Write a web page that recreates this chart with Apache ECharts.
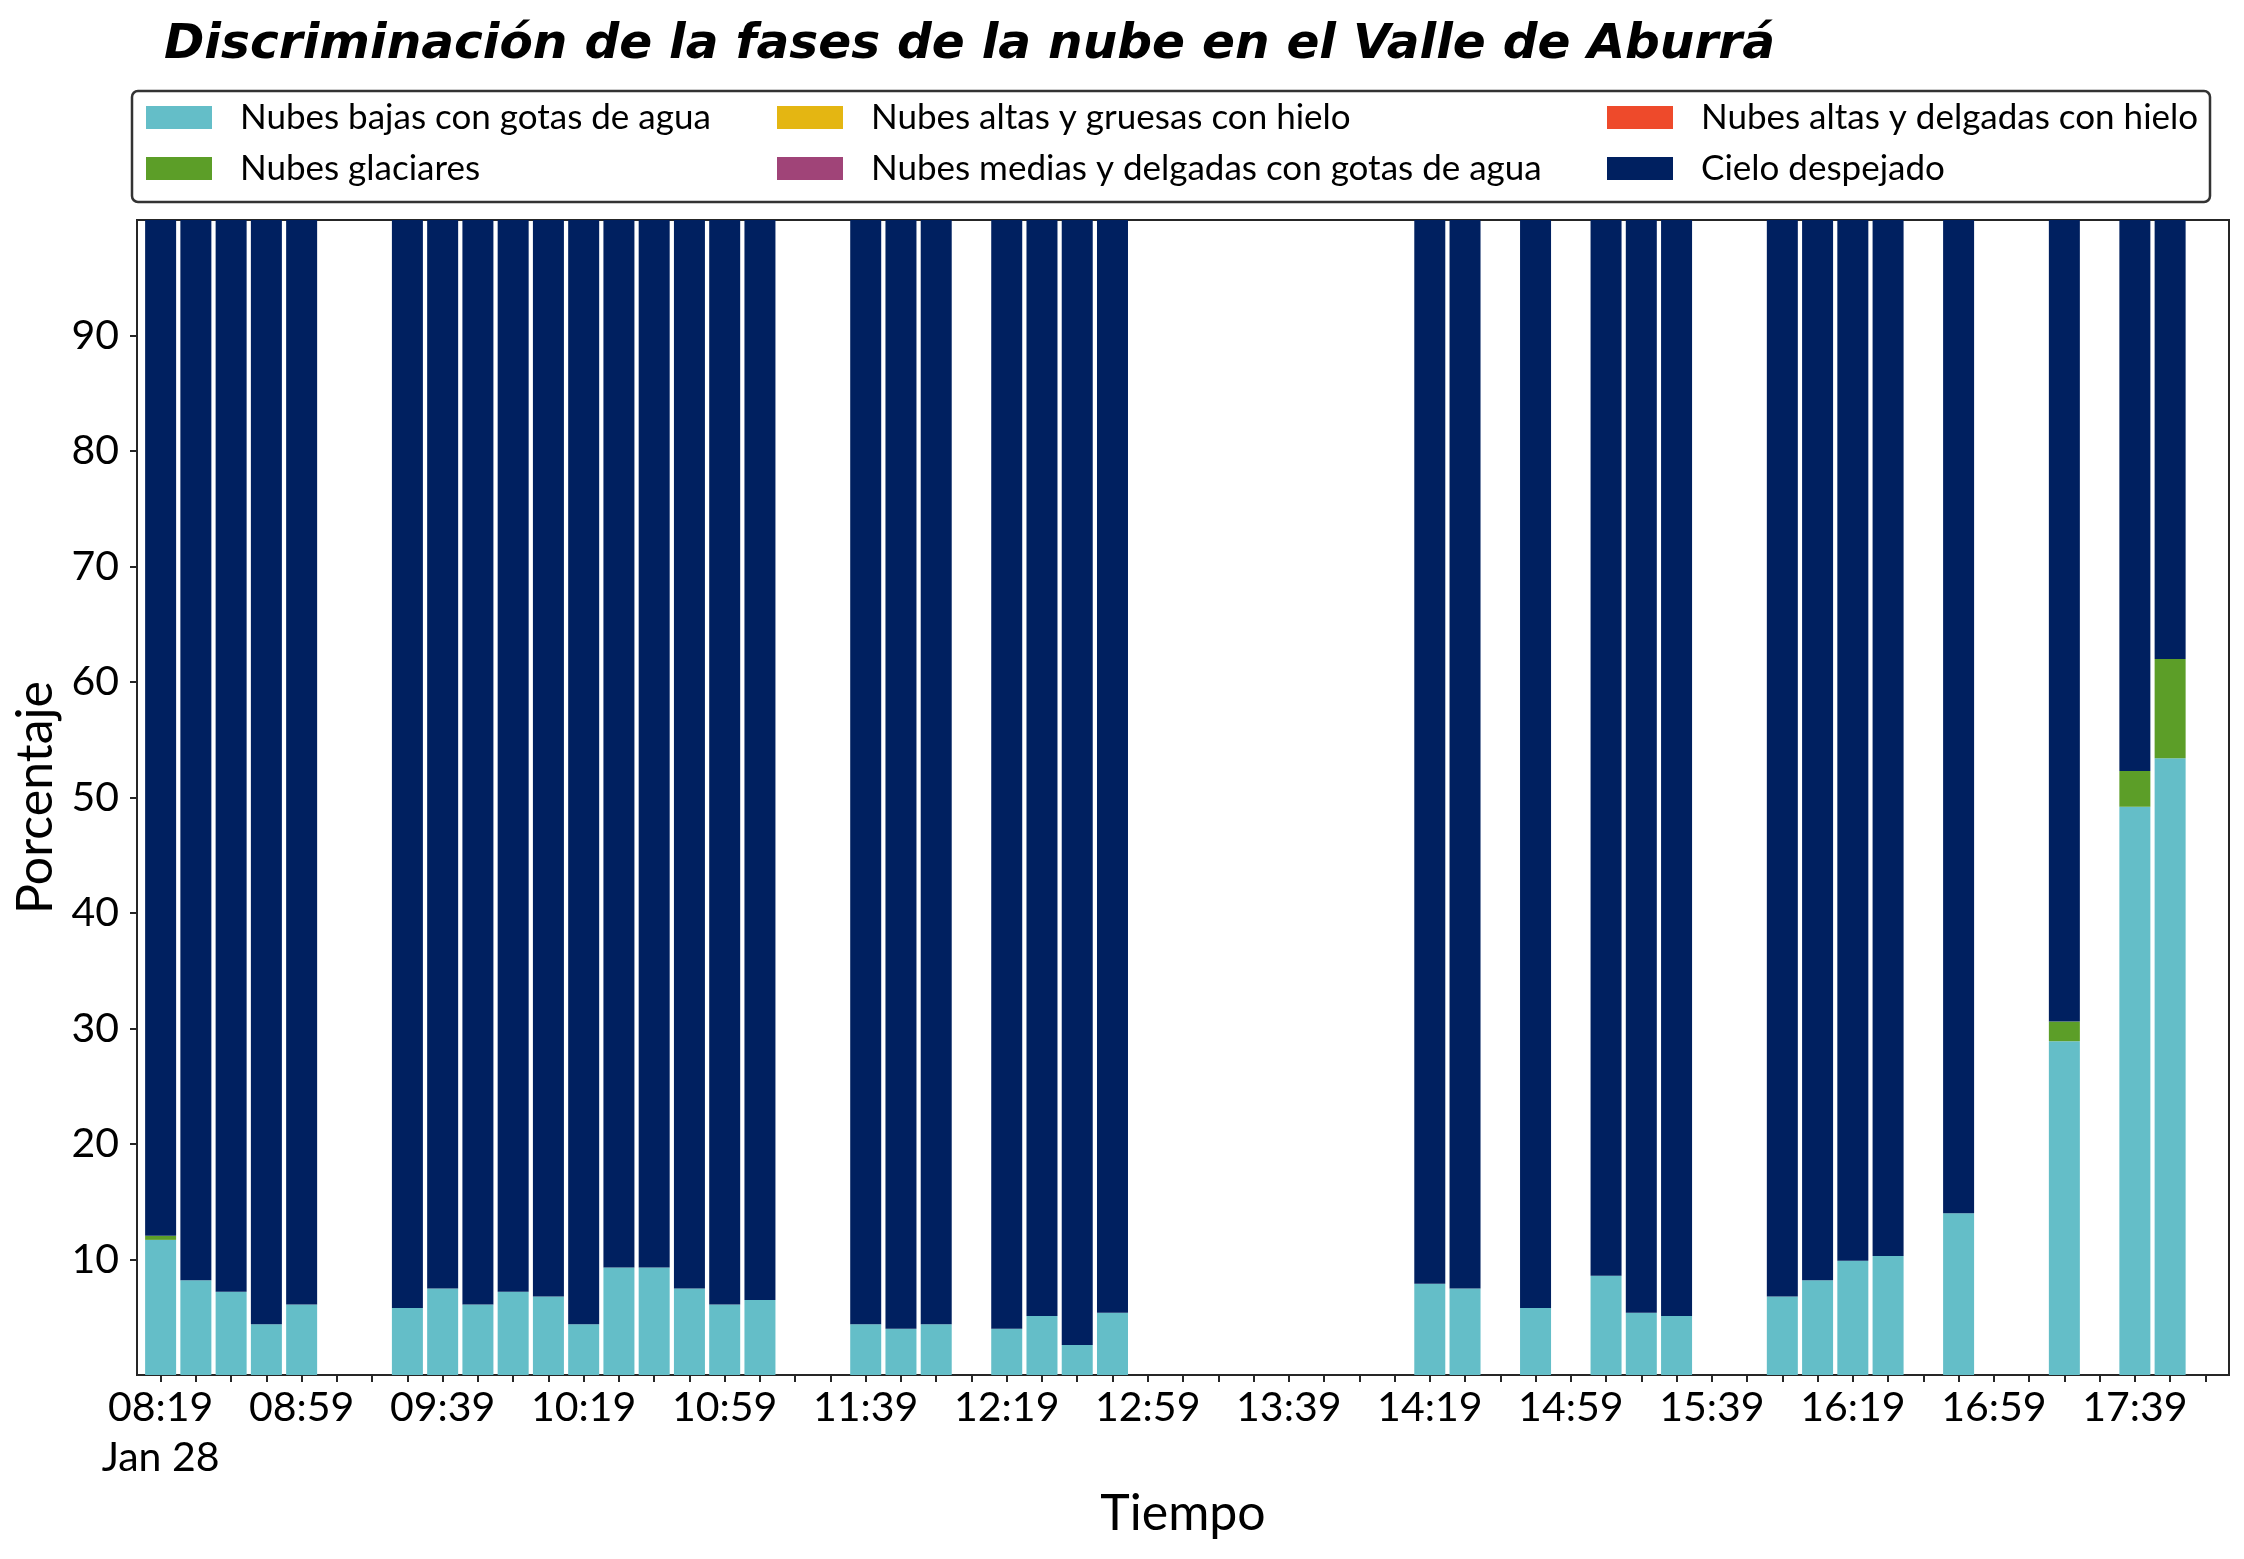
<!DOCTYPE html>
<html>
<head>
<meta charset="utf-8">
<script src="https://cdn.jsdelivr.net/npm/echarts@6/dist/echarts.min.js"></script>
<style>
html,body{margin:0;padding:0;background:#fff;}
#chart{width:2244px;height:1559px;}
</style>
</head>
<body>
<div id="chart"></div>
<script>
// ---- data ----
const times = ['08:19','08:29','08:39','08:49','08:59','09:29','09:39','09:49','09:59','10:09','10:19','10:29','10:39','10:49','10:59','11:09','11:39','11:49','11:59','12:19','12:29','12:39','12:49','14:19','14:29','14:49','15:09','15:19','15:29','15:59','16:09','16:19','16:29','16:49','17:19','17:39','17:49'];
const bajasAgua   = [11.7,8.2,7.2,4.4,6.1,5.8,7.5,6.1,7.2,6.8,4.4,9.3,9.3,7.5,6.1,6.5,4.4,4.0,4.4,4.0,5.1,2.6,5.4,7.9,7.5,5.8,8.6,5.4,5.1,6.8,8.2,9.9,10.3,14.0,28.9,49.2,53.4];
const glaciares   = [0.35,0,0,0,0,0,0,0,0,0,0,0,0,0,0,0,0,0,0,0,0,0,0,0,0,0,0,0,0,0,0,0,0,0,1.7,3.1,8.6];
const altasGruesas = [0,0,0,0,0,0,0,0,0,0,0,0,0,0,0,0,0,0,0,0,0,0,0,0,0,0,0,0,0,0,0,0,0,0,0,0,0];
const mediasDelgadas = [0,0,0,0,0,0,0,0,0,0,0,0,0,0,0,0,0,0,0,0,0,0,0,0,0,0,0,0,0,0,0,0,0,0,0,0,0];
const altasDelgadas = [0,0,0,0,0,0,0,0,0,0,0,0,0,0,0,0,0,0,0,0,0,0,0,0,0,0,0,0,0,0,0,0,0,0,0,0,0];
const despejado   = [87.95,91.8,92.8,95.6,93.9,94.2,92.5,93.9,92.8,93.2,95.6,90.7,90.7,92.5,93.9,93.5,95.6,96.0,95.6,96.0,94.9,97.4,94.6,92.1,92.5,94.2,91.4,94.6,94.9,93.2,91.8,90.1,89.7,86.0,69.4,47.7,38.0];
const xTickLabels = ['08:19','08:59','09:39','10:19','10:59','11:39','12:19','12:59','13:39','14:19','14:59','15:39','16:19','16:59','17:39'];
const xMinorTickStart = '08:19', xMinorTickEnd = '17:59';
const yTickLabels = [10,20,30,40,50,60,70,80,90];
const dateLabel = 'Jan 28';
const seriesNames = ['Nubes bajas con gotas de agua','Nubes glaciares','Nubes altas y gruesas con hielo','Nubes medias y delgadas con gotas de agua','Nubes altas y delgadas con hielo','Cielo despejado'];
const seriesColors = ['#64bec8','#5c9e28','#e4b612','#a04478','#ee4a2b','#002060'];
const seriesValues = [bajasAgua, glaciares, altasGruesas, mediasDelgadas, altasDelgadas, despejado];

// ---- helpers ----
const toMin = t => { const [h,m] = t.split(':').map(Number); return h*60+m; };
const fmt = v => { const h = Math.floor(v/60), m = Math.round(v - h*60); return String(h).padStart(2,'0')+':'+String(m).padStart(2,'0'); };
const minorTicks = [];
for (let v = toMin(xMinorTickStart); v <= toMin(xMinorTickEnd); v += 10) minorTicks.push(v);
const labelVals = xTickLabels.map(toMin);
const FONT = 'Lato';

const chart = echarts.init(document.getElementById('chart'), null, {renderer:'canvas'});

// legend layout: column-major, 3 columns x 2 rows
const legendPos = [
  {left:146, row:0},{left:146, row:1},
  {left:777, row:0},{left:777, row:1},
  {left:1607,row:0},{left:1607,row:1}
];
const rowCenters = [117.5, 168.5];
const legends = seriesNames.map((n,i)=>({
  data:[n], left:legendPos[i].left, top: rowCenters[legendPos[i].row]-19,
  padding:0, itemWidth:66, itemHeight:23, icon:'rect', selectedMode:false,
  textStyle:{fontFamily:FONT, fontSize:35, color:'#000', lineHeight:38, padding:[0,0,0,23]},
  itemStyle:{borderWidth:0}
}));

// value first, time second, so that the stack is computed on the value dimension
const series = seriesNames.map((n,i)=>({
  name:n, type:'bar', stack:'total', barWidth:31,
  itemStyle:{color:seriesColors[i]},
  emphasis:{disabled:true},
  encode:{x:1, y:0},
  data: times.map((t,j)=>[seriesValues[i][j], toMin(t)])
}));

chart.setOption({
  animation:false,
  backgroundColor:'#fff',
  title:{
    text:'Discriminación de la fases de la nube en el Valle de Aburrá',
    left:164, top:21, padding:0,
    textStyle:{fontFamily:'DejaVu Sans', fontSize:48.6, fontWeight:'bold', fontStyle:'italic', color:'#000'}
  },
  legend: legends,
  graphic:[{type:'rect', shape:{x:132,y:91,width:2078,height:111,r:6}, style:{fill:'none', stroke:'#333', lineWidth:2.5}, silent:true, z:-1}],
  grid:{left:137, right:15, top:220, bottom:184, show:true, borderColor:'#262626', borderWidth:2, backgroundColor:'transparent'},
  xAxis:{
    type:'value', min:492.3, max:1085.7,
    name:'Tiempo', nameLocation:'middle', nameGap:114,
    nameTextStyle:{fontFamily:FONT, fontSize:50, color:'#000'},
    axisLine:{show:true, lineStyle:{color:'#262626', width:2}},
    axisTick:{show:true, length:7, lineStyle:{color:'#262626', width:2}, customValues:minorTicks},
    axisLabel:{
      customValues:labelVals, margin:8, fontFamily:FONT, fontSize:41, color:'#000', lineHeight:50,
      formatter: v => (Math.abs(v - labelVals[0])<0.01 ? fmt(v)+'\n'+dateLabel : fmt(v))
    },
    splitLine:{show:false}
  },
  yAxis:{
    type:'value', min:0, max:100,
    name:'Porcentaje', nameLocation:'middle', nameGap:71,
    nameTextStyle:{fontFamily:FONT, fontSize:50, color:'#000'},
    axisLine:{show:true, lineStyle:{color:'#262626', width:2}},
    axisTick:{show:true, length:7, lineStyle:{color:'#262626', width:2}, customValues:yTickLabels},
    axisLabel:{customValues:yTickLabels, margin:18, fontFamily:FONT, fontSize:41, color:'#000'},
    splitLine:{show:false}
  },
  series: series
});
</script>
</body>
</html>
